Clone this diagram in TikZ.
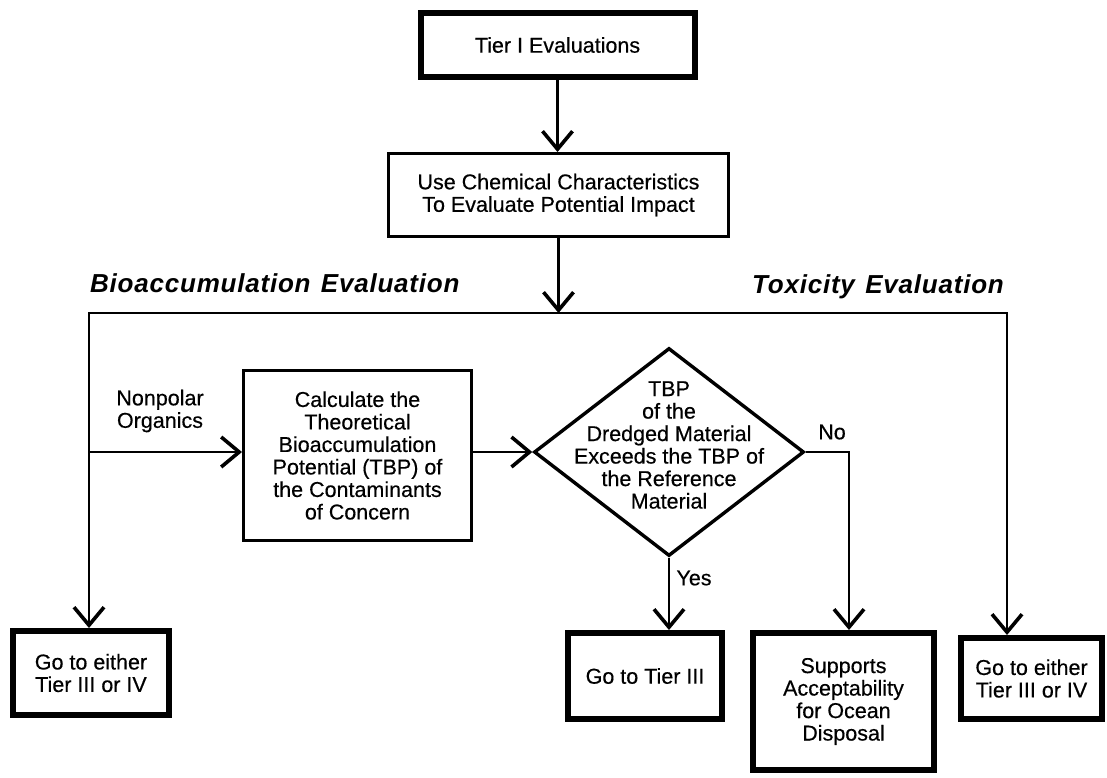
\documentclass[tikz,border=0pt]{standalone}
\usepackage{fontspec}
\setmainfont{Liberation Sans}
\newfontfamily\bodyfont{Liberation Sans}[FakeBold=0.4]
\newfontfamily\titlefont{Liberation Sans}[LetterSpace=3]
\usetikzlibrary{arrows.meta,shapes.geometric}
\begin{document}
\begin{tikzpicture}[x=1pt,y=-1pt,
  txt/.style={font=\bodyfont\fontsize{21.5}{22.5}\selectfont, align=center},
  thickbox/.style={draw, line width=6pt, txt, inner sep=0pt},
  thinbox/.style={draw, line width=3pt, txt, inner sep=0pt},
  conn/.style={line width=2.6pt},
  arr/.style={conn, -{Straight Barb[length=18pt,width=30pt,line width'=3.6pt]}},
  title/.style={font=\titlefont\fontsize{26}{28}\selectfont\bfseries\itshape, anchor=base west, inner sep=0pt},
]
\useasboundingbox (0,0) rectangle (1107,777);

% boxes
\node[thickbox, minimum width=274pt, minimum height=64pt] (top) at (557.5,45) {Tier I Evaluations};
\node[thinbox, minimum width=340pt, minimum height=83pt] (box2) at (558.5,195) {Use Chemical Characteristics\\To Evaluate Potential Impact};
\node[thinbox, minimum width=228pt, minimum height=170pt] (calc) at (357.5,455.5) {Calculate the\\Theoretical\\Bioaccumulation\\Potential (TBP) of\\the Contaminants\\of Concern};
\node[draw, diamond, line width=3.4pt, inner sep=0pt, minimum width=270pt, minimum height=208pt] (dia) at (669,452) {};
\node[txt] (dtxt) at (669,445) {TBP\\of the\\Dredged Material\\Exceeds the TBP of\\the Reference\\Material};
\node[thickbox, minimum width=156pt, minimum height=84pt] (lbox) at (91,673) {Go to either\\Tier III or IV};
\node[thickbox, minimum width=154pt, minimum height=86pt] (t3) at (645,676) {Go to Tier III};
\node[thickbox, minimum width=181pt, minimum height=137pt] (sup) at (843.5,701.5) {Supports\\Acceptability\\for Ocean\\Disposal};
\node[thickbox, minimum width=141pt, minimum height=81pt] (rbox) at (1031.5,678.5) {Go to either\\Tier III or IV};

% labels
\node[title] (bt) at (90,292) {Bioaccumulation\hspace{0.4em}Evaluation};
\node[title] (tt) at (752,293) {Toxicity\hspace{0.4em}Evaluation};
\node[txt] (np) at (160,411) {Nonpolar\\Organics};
\node[txt] (no) at (832,432) {No};
\node[txt] (yes) at (694,578) {Yes};

% junction coordinates
\coordinate (hl) at (89,313);
\coordinate (hr) at (1007,313);
\coordinate (hm) at (558.5,313);
\coordinate (br) at (89,452);
\coordinate (nc) at (849,452);

% connectors
\draw[arr] (top.south) -- (top.south |- box2.north);
\draw[arr] (box2.south) -- (hm);
\draw[arr] (hm) -- (hl) -- (hl |- lbox.north);
\draw[arr] (hm) -- (hr) -- (hr |- rbox.north);
\draw[arr] (br) -- (br -| calc.west);
\draw[arr] (calc.east |- dia.west) -- (dia.west);
\draw[arr] (dia.east) -- (nc) -- (nc |- sup.north);
\draw[arr] (dia.south) -- (dia.south |- t3.north);
\end{tikzpicture}
\end{document}
